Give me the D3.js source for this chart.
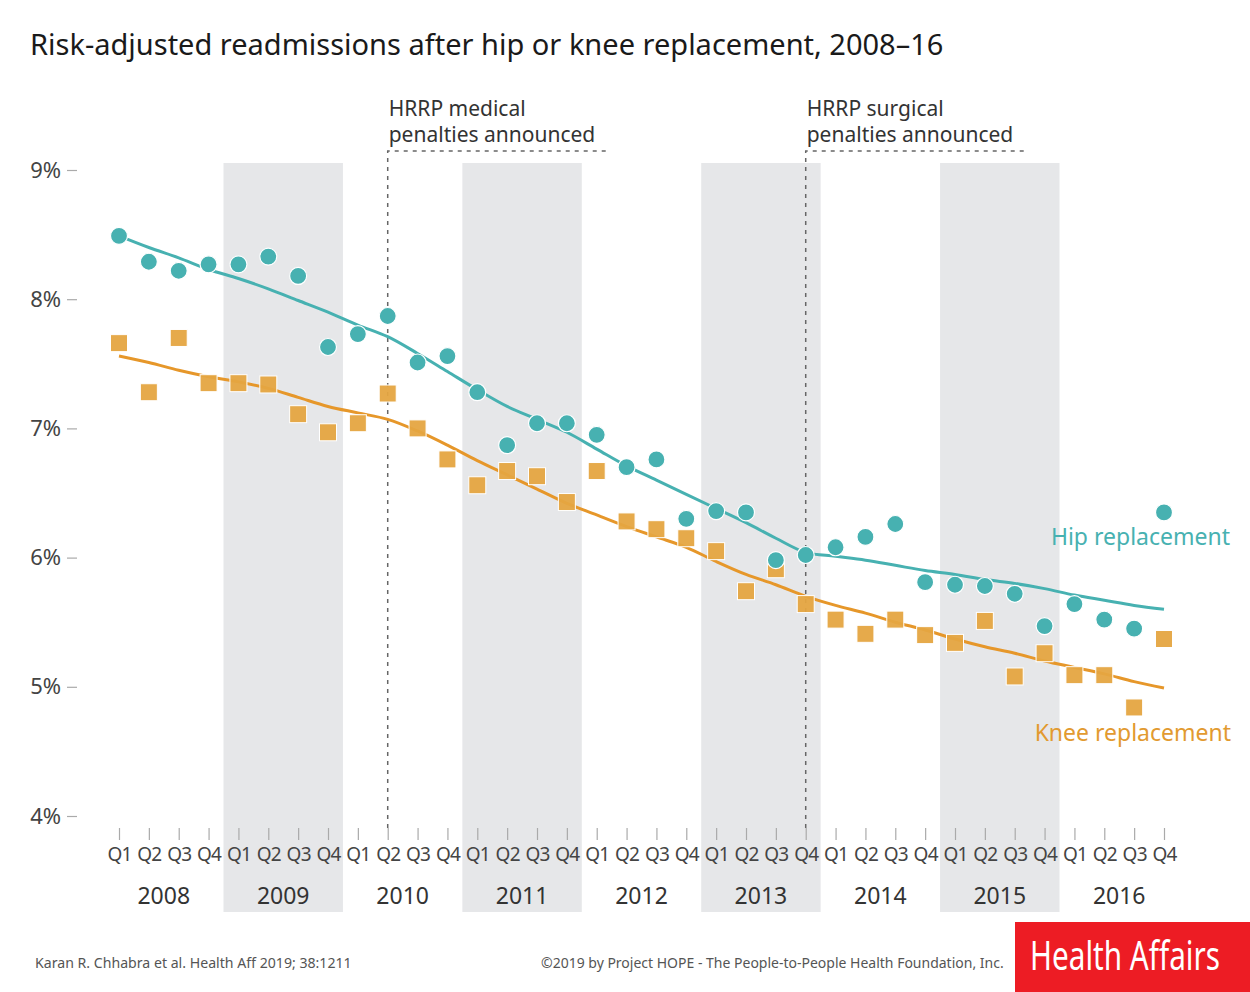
<!DOCTYPE html>
<html><head><meta charset="utf-8">
<script src="https://cdn.jsdelivr.net/npm/d3@7"></script>
<style>body{margin:0;background:#fff}svg{display:block}text{font-family:"Noto Sans",sans-serif}</style>
</head><body>
<script>
const years = ["2008","2009","2010","2011","2012","2013","2014","2015","2016"];
const quarters = ["Q1","Q2","Q3","Q4"];
const hipValues = [8.49,8.29,8.22,8.27, 8.27,8.33,8.18,7.63, 7.73,7.87,7.51,7.56, 7.28,6.87,7.04,7.04,
  6.95,6.70,6.76,6.30, 6.36,6.35,5.98,6.02, 6.08,6.16,6.26,5.81, 5.79,5.78,5.72,5.47, 5.64,5.52,5.45,6.35];
const kneeValues = [7.66,7.28,7.70,7.35, 7.35,7.34,7.11,6.97, 7.04,7.27,7.00,6.76, 6.56,6.67,6.63,6.43,
  6.67,6.28,6.22,6.15, 6.05,5.74,5.91,5.64, 5.52,5.41,5.52,5.40, 5.34,5.51,5.08,5.26, 5.09,5.09,4.84,5.37];
const hipTrend = [8.49,8.40,8.32,8.23, 8.16,8.08,7.99,7.90, 7.80,7.71,7.58,7.44, 7.30,7.17,7.07,6.97,
  6.84,6.71,6.60,6.49, 6.38,6.27,6.15,6.04, 6.01,5.98,5.94,5.90, 5.87,5.83,5.80,5.76, 5.71,5.67,5.63,5.60];
const kneeTrend = [7.56,7.51,7.45,7.40, 7.36,7.31,7.24,7.17, 7.12,7.07,6.98,6.87, 6.75,6.64,6.53,6.42,
  6.33,6.24,6.16,6.08, 5.97,5.87,5.79,5.70, 5.63,5.57,5.50,5.44, 5.37,5.31,5.26,5.20, 5.15,5.10,5.04,4.99];
const yTicks = [4,5,6,7,8,9];
const events = [{label:["HRRP medical","penalties announced"], index: 9},
                {label:["HRRP surgical","penalties announced"], index: 23}];

const W = 1250, H = 992;
const svg = d3.select("body").append("svg").attr("width", W).attr("height", H);
const teal = "#47b1b1", orange = "#e5a541", orangeLine = "#e6972a";

const idx = d3.range(hipValues.length);
const x = d3.scaleLinear().domain([0, 35]).range([119, 1164]);
const step = x(1) - x(0);
const y = d3.scaleLinear().domain([4, 9]).range([816, 170]);

// shaded alternate years
svg.append("g").selectAll("rect").data(years.filter((d,i)=>i%2===1)).join("rect")
  .attr("x", d => x(years.indexOf(d)*4) - step/2)
  .attr("width", step*4)
  .attr("y", 163).attr("height", 912-163)
  .attr("fill", "#e6e7e9");

// title
svg.append("text").attr("x", 30).attr("y", 55).attr("font-size", 29).attr("fill", "#1a1a1a")
  .text("Risk-adjusted readmissions after hip or knee replacement, 2008–16");

// y axis
const yAxis = d3.axisLeft(y).tickValues(yTicks).tickFormat(d => d + "%").tickSize(10).tickPadding(6);
const gy = svg.append("g").attr("transform", "translate(77,0)").call(yAxis);
gy.select(".domain").remove();
gy.selectAll("line").attr("stroke", "#aaa").attr("stroke-width", 1.2);
gy.selectAll("text").attr("font-size", 22).attr("fill", "#444").attr("font-family", "Noto Sans");

// x axis
const xAxis = d3.axisBottom(x).tickValues(idx).tickFormat(i => quarters[i%4]).tickSize(12).tickPadding(8);
const gx = svg.append("g").attr("transform", "translate(0,828)").call(xAxis);
gx.select(".domain").remove();
gx.selectAll("line").attr("stroke", "#aaa").attr("stroke-width", 1.2);
gx.selectAll("text").attr("font-size", 19).attr("fill", "#444").attr("font-family", "Noto Sans").attr("letter-spacing", -0.8);

svg.append("g").selectAll("text").data(years).join("text")
  .attr("x", (d,i) => x(i*4 + 1.5)).attr("y", 904).attr("text-anchor", "middle")
  .attr("font-size", 23).attr("fill", "#333").text(d => d);

// event lines
const ev = svg.append("g");
events.forEach(e => {
  const ex = x(e.index);
  ev.append("path").attr("d", `M${ex},828 V151 H${ex+218}`)
    .attr("fill","none").attr("stroke","#666").attr("stroke-width",1.5).attr("stroke-dasharray","4,5");
  ev.append("text").attr("x", ex+1).attr("y", 116).attr("font-size", 21).attr("fill","#333").text(e.label[0]);
  ev.append("text").attr("x", ex+1).attr("y", 142).attr("font-size", 21).attr("fill","#333").text(e.label[1]);
});

// trend lines
const line = d3.line().x((d,i) => x(i)).y(d => y(d)).curve(d3.curveCatmullRom);
svg.append("path").datum(hipTrend).attr("d", line).attr("fill","none").attr("stroke", teal).attr("stroke-width", 3);
svg.append("path").datum(kneeTrend).attr("d", line).attr("fill","none").attr("stroke", orangeLine).attr("stroke-width", 3);

// markers
svg.append("g").selectAll("rect").data(kneeValues).join("rect")
  .attr("x", (d,i) => x(i) - 8.5).attr("y", d => y(d) - 8.5).attr("width", 17).attr("height", 17)
  .attr("fill", orange).attr("fill-opacity", 0.95).attr("stroke", "#fff").attr("stroke-width", 1);
svg.append("g").selectAll("circle").data(hipValues).join("circle")
  .attr("cx", (d,i) => x(i)).attr("cy", d => y(d)).attr("r", 8.5)
  .attr("fill", teal).attr("stroke", "#fff").attr("stroke-width", 1.2);

// labels
svg.append("text").attr("x", 1230).attr("y", 545).attr("text-anchor","end").attr("font-size", 23)
  .attr("fill", teal).text("Hip replacement");
svg.append("text").attr("x", 1231).attr("y", 741).attr("text-anchor","end").attr("font-size", 23)
  .attr("fill", "#e29a30").text("Knee replacement");

// condensed text helper: scale horizontally to a target width
function condensed(xPos, yPos, size, fill, txt, width) {
  const g = svg.append("g");
  const t = g.append("text").attr("x", 0).attr("y", 0).attr("font-size", size).attr("fill", fill)
    .attr("font-family", "Liberation Sans").text(txt);
  const w = t.node().getComputedTextLength();
  g.attr("transform", `translate(${xPos},${yPos}) scale(${width / w},1)`);
}
condensed(35, 968, 15, "#555", "Karan R. Chhabra et al. Health Aff 2019; 38:1211", 317);
condensed(541, 968, 15, "#555", "©2019 by Project HOPE - The People-to-People Health Foundation, Inc.", 463);
svg.append("rect").attr("x", 1015).attr("y", 922).attr("width", 235).attr("height", 70).attr("fill", "#ed1c24");
condensed(1030, 970, 40, "#fff", "Health Affairs", 190);
</script>
</body></html>
